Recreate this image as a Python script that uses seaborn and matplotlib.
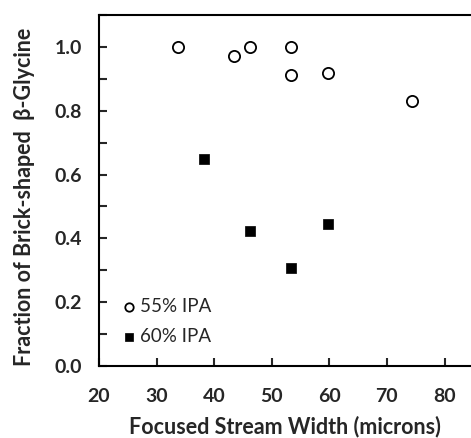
import pandas as pd
import seaborn as sns
import matplotlib.pyplot as plt
from matplotlib.ticker import MultipleLocator

# 55% IPA (open circles)
width_55 = [33.7, 43.5, 46.3, 53.4, 53.4, 59.8, 74.3]
frac_55 = [1.0, 0.971, 1.0, 1.0, 0.911, 0.917, 0.830]
# 60% IPA (filled squares)
width_60 = [38.2, 46.3, 53.4, 59.8]
frac_60 = [0.650, 0.424, 0.306, 0.444]

df = pd.concat([
    pd.DataFrame({"width": width_55, "frac": frac_55, "group": "55% IPA"}),
    pd.DataFrame({"width": width_60, "frac": frac_60, "group": "60% IPA"}),
])

sns.set_style("ticks")
plt.rcParams["font.family"] = ["Lato", "DejaVu Sans"]

fig = plt.figure(figsize=(4.71, 4.38), dpi=100)
ax = fig.add_axes([0.2102, 0.1644, 0.7898, 0.8014])

d55 = df[df.group == "55% IPA"]
d60 = df[df.group == "60% IPA"]
sns.scatterplot(data=d55, x="width", y="frac", ax=ax, marker="o", s=65,
                facecolor="white", edgecolor="black", linewidth=1.3,
                label="55% IPA", zorder=3)
sns.scatterplot(data=d60, x="width", y="frac", ax=ax, marker="s", s=50,
                color="black", edgecolor="black", linewidth=0.5,
                label="60% IPA", zorder=3)

ax.set_xlim(20, 84.6)
ax.set_ylim(0, 1.1)
ax.xaxis.set_major_locator(MultipleLocator(10))
ax.yaxis.set_major_locator(MultipleLocator(0.2))
ax.yaxis.set_minor_locator(MultipleLocator(0.1))
ax.yaxis.set_major_formatter(plt.FormatStrFormatter("%.1f"))
ax.tick_params(axis="both", which="both", direction="in", width=1.5,
               labelsize=14)
ax.tick_params(axis="y", which="both", pad=12)
ax.tick_params(axis="x", which="both", pad=16)
ax.tick_params(axis="both", which="major", length=6)
ax.tick_params(axis="y", which="minor", length=6)
for lab in ax.get_xticklabels() + ax.get_yticklabels():
    lab.set_fontweight("bold")

for side in ["left", "bottom", "top"]:
    ax.spines[side].set_linewidth(1.5)
    ax.spines[side].set_color("black")
ax.spines["right"].set_visible(False)
ax.spines["top"].set_visible(True)

ax.set_xlabel("Focused Stream Width (microns)", fontsize=15.5, fontweight="bold")
ax.set_ylabel("Fraction of Brick-shaped  β-Glycine", fontsize=15.5,
              fontweight="bold")
ax.yaxis.set_label_coords(-0.172, 0.481)
ax.xaxis.set_label_coords(0.5, -0.142)

ax.legend(loc="lower left", bbox_to_anchor=(0.0, 0.0), frameon=False,
          fontsize=13.5, markerscale=0.75, handletextpad=0.1,
          labelspacing=0.72, borderpad=0.6, handlelength=1.0)

fig.savefig("out.png", dpi=100)
